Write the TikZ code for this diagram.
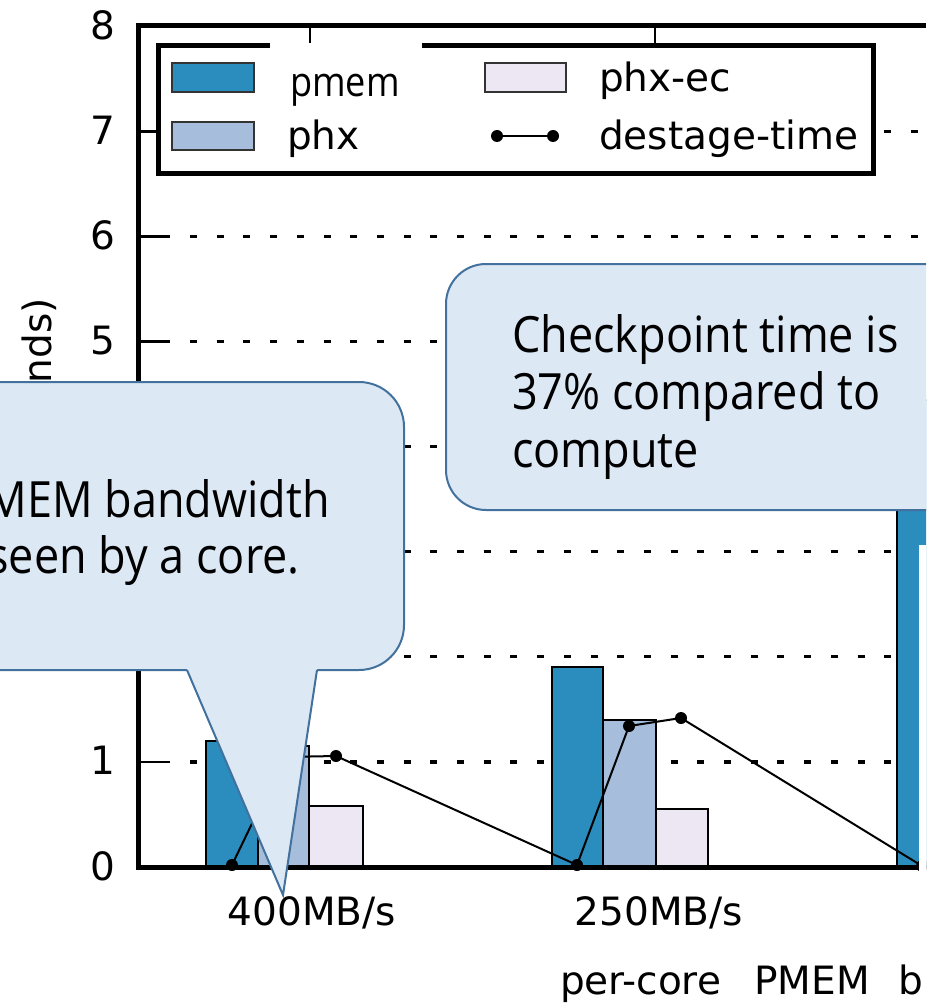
\documentclass[tikz,border=0pt]{standalone}
\usepackage{fontspec}
\setmainfont{DejaVu Sans}
\newfontfamily\calloutfont[FakeStretch=0.9]{Open Sans}
\newfontfamily\legendfont[FakeStretch=0.88]{Open Sans}
\definecolor{pmemc}{HTML}{2B8CBE}
\definecolor{phxc}{HTML}{A6BDDB}
\definecolor{phxecc}{HTML}{ECE7F2}
\definecolor{calloutfill}{HTML}{DDE8F5}
\definecolor{calloutline}{HTML}{41719C}
\tikzset{
  chartfont/.style={font=\fontsize{39}{47}\selectfont, inner sep=0pt},
  bar/.style={draw=black, line width=1.5pt},
  swatch/.style={draw=black!80, line width=1.5pt},
  spine/.style={line width=5pt, line join=miter},
  tickmark/.style={line width=2.5pt},
  gridline/.style={line width=3.2pt, dash pattern=on 7pt off 19.7pt},
  destage/.style={line width=2pt, line join=round},
  callout/.style={fill=calloutfill, draw=calloutline, line width=2pt},
  callouttext/.style={font=\calloutfont\fontsize{50}{57}\selectfont, inner sep=0pt},
}
\begin{document}
\begin{tikzpicture}[x=1pt,y=-1pt]
\useasboundingbox (0,0) rectangle (926,1003);
\clip (0,0) rectangle (926,1003);
\fill[white] (0,0) rectangle (926,1003);

% horizontal grid with inner ticks on the y axis
\foreach \v in {1,...,7} {
  \draw[tickmark] (138,{867-105.1*\v}) -- (170,{867-105.1*\v});
  \draw[gridline] (190,{867-105.1*\v}) -- (926,{867-105.1*\v});
}

% bars, group 400MB/s
\draw[bar, fill=pmemc]  (206,867) rectangle (258,741);
\draw[bar, fill=phxc]   (258,867) rectangle (309,746);
\draw[bar, fill=phxecc] (309,867) rectangle (363,806);
% bars, group 250MB/s
\draw[bar, fill=pmemc]  (552,867) rectangle (603,667);
\draw[bar, fill=phxc]   (603,867) rectangle (656,720);
\draw[bar, fill=phxecc] (656,867) rectangle (708,809);
% next group, tall pmem bar
\draw[bar, fill=pmemc]  (897,867) rectangle (960,400);

% destage-time series
\coordinate (d1) at (232,865);
\coordinate (d2) at (284,757);
\coordinate (d3) at (336,756);
\coordinate (d4) at (577,865);
\coordinate (d5) at (629,726);
\coordinate (d6) at (681,718);
\coordinate (d7) at (922,866);
\draw[destage] (d1) -- (d2) -- (d3) -- (d4) -- (d5) -- (d6) -- (d7);
\foreach \p in {d1,d2,d3,d4,d5,d6,d7} \fill (\p) circle (6);

% axes frame
\draw[spine] (926,26) -- (138.4,26) -- (138.4,867) -- (926,867);
\draw[tickmark] (310,26) -- (310,60);
\draw[tickmark] (655,26) -- (655,60);

% tick labels
\foreach \v in {0,1,5,6,7,8}
  \node[chartfont, anchor=base east] (ylab\v) at (116,{867-105.1*\v+13}) {\v};
\node[chartfont, anchor=base] (xlab1) at (312,925) {400MB/s};
\node[chartfont, anchor=base] (xlab2) at (659,925) {250MB/s};
\node[chartfont, anchor=base west] (xtitle1) at (560,994) {per-core};
\node[chartfont, anchor=base west] (xtitle2) at (754,994) {PMEM};
\node[chartfont, anchor=base west] (xtitle3) at (898,994) {b};
\node[chartfont, rotate=90, anchor=base east] (ytitle) at (51,298) {nds)};

% legend
\draw[line width=5pt, fill=white, line join=miter] (158.5,46) rectangle (873.5,174);
\fill[white] (270,43) rectangle (422,51);
\draw[swatch, fill=pmemc]  (172,63) rectangle (254,92);
\draw[swatch, fill=phxc]   (172,122) rectangle (254,150);
\draw[swatch, fill=phxecc] (485,63) rectangle (566,92);
\coordinate (l1) at (497,136);
\coordinate (l2) at (553,136);
\draw[destage] (l1) -- (l2);
\fill (l1) circle (6) (l2) circle (6);
\node[font=\legendfont\fontsize{41}{46}\selectfont, inner sep=0pt, anchor=base west] (leg1) at (290,97) {pmem};
\node[chartfont, anchor=base west] (leg2) at (287,150) {phx};
\node[chartfont, anchor=base west] (leg3) at (599,92) {phx-ec};
\node[chartfont, anchor=base west] (leg4) at (599,150) {destage-time};

% blank strip at the right edge
\fill[white] (919,545) rectangle (930,880);

% callout on the right
\draw[callout, rounded corners=40pt] (446,264) rectangle (1010,510);
\node[callouttext, anchor=base west] (c1) at (512,352) {Checkpoint time is};
\node[callouttext, anchor=base west] (c2) at (512,409.5) {37\% compared to};
\node[callouttext, anchor=base west] (c3) at (512,467) {compute};

% callout on the left with its pointer
\draw[callout, rounded corners=45pt] (-100,382) rectangle (404,670);
\fill[calloutfill] (187,666) -- (187,670) -- (283,895) -- (317,670) -- (317,666) -- cycle;
\coordinate (t1) at (187,670);
\coordinate (t2) at (283,895);
\coordinate (t3) at (317,670);
\draw[calloutline, line width=2pt, line join=miter] (t1) -- (t2) -- (t3);
\node[callouttext, anchor=base east] (b1) at (330,517) {MEM bandwidth};
\node[callouttext, anchor=base east] (b2) at (300,573) {seen by a core.};
\end{tikzpicture}
\end{document}
